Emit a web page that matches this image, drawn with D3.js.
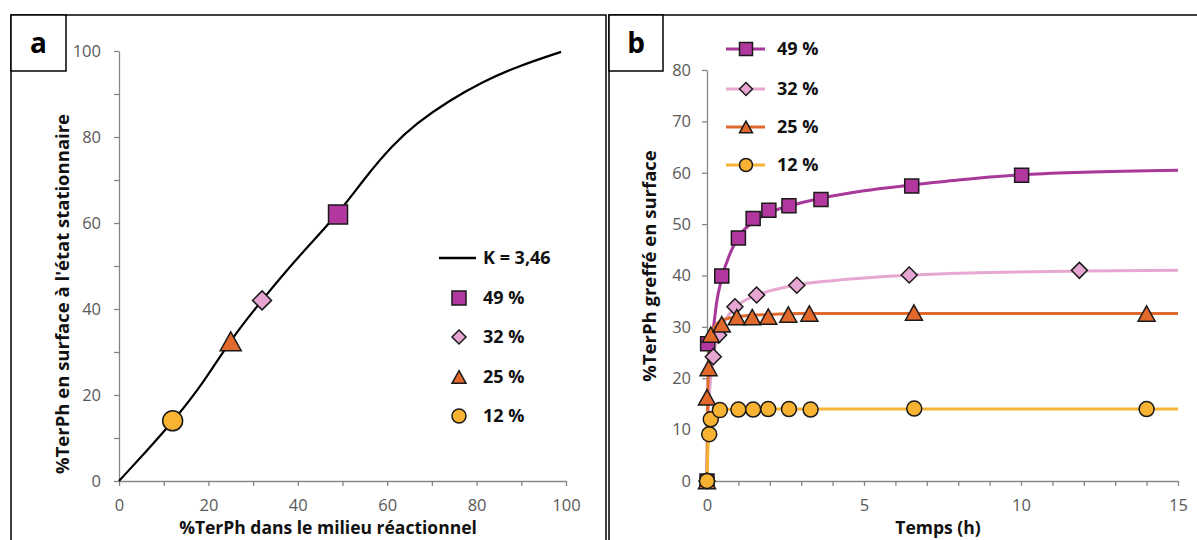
<!DOCTYPE html>
<html><head><meta charset="utf-8">
<script src="https://cdn.jsdelivr.net/npm/d3@7"></script>
<style>
html,body{margin:0;padding:0;background:#fff;}
svg{display:block;font-family:"Open Sans",sans-serif;}
</style></head><body>
<svg id="c" width="1197" height="540"></svg>
<script>
// ---------- DATA ----------
const seriesNames = ["49 %", "32 %", "25 %", "12 %"];
const shapes = ["square", "diamond", "triangle", "circle"];

// Panel a: model curve (K = 3,46)
const modelX = [0, 6, 12.3, 19, 24.6, 31.9, 40.3, 48.9, 55.2, 61.2, 66.4, 73.9, 81.3, 88.8, 98.9];
const modelY = [0, 6.8, 14.1, 23, 32.3, 42.0, 52.4, 61.9, 70.8, 78.1, 83.1, 88.5, 92.8, 96.3, 99.8];
// Panel a: steady-state points
const solutionPct = [49, 32, 25, 12];
const surfacePct = [62, 42, 32.5, 14];

// Panel b: measured points (time h, % grafted)
const t49 = [0, 0.02, 0.47, 1.0, 1.47, 1.97, 2.61, 3.63, 6.52, 10.02];
const v49 = [0, 26.7, 39.9, 47.3, 51.1, 52.7, 53.6, 54.8, 57.4, 59.5];
const t32 = [0, 0.2, 0.37, 0.89, 1.58, 2.86, 6.44, 11.86];
const v32 = [0, 24.2, 28.4, 33.9, 36.2, 38.1, 40.1, 41.0];
const t25 = [0, 0.0, 0.05, 0.12, 0.47, 0.95, 1.44, 1.95, 2.59, 3.26, 6.59, 14.0];
const v25 = [0, 16.3, 22.0, 28.5, 30.5, 31.9, 31.9, 32.0, 32.4, 32.6, 32.8, 32.6];
const t12 = [0, 0.07, 0.12, 0.41, 1.0, 1.47, 1.95, 2.61, 3.30, 6.6, 14.0];
const v12 = [0, 9.1, 12.0, 13.8, 13.9, 13.9, 14.0, 14.0, 13.9, 14.1, 14.0];

// Panel b: fitted curves
const ft49 = [0, 0.03, 0.15, 0.3, 0.47, 0.75, 1.0, 1.5, 2.0, 2.6, 3.6, 5, 6.5, 8, 10, 12, 15];
const fv49 = [0, 15, 26, 34.5, 39.5, 44.5, 47.5, 50.5, 52.3, 53.5, 55, 56.5, 57.6, 58.6, 59.6, 60.1, 60.5];
const ft32 = [0, 0.05, 0.2, 0.4, 0.6, 0.9, 1.5, 2, 3, 4, 6.5, 9, 12, 15];
const fv32 = [0, 14, 24, 29, 31.5, 33.8, 36, 37, 38.3, 39.0, 40.1, 40.6, 40.9, 41.0];
const ft25 = [0, 0.02, 0.05, 0.12, 0.3, 0.5, 1, 2, 3, 15];
const fv25 = [0, 16, 22, 28.4, 30.5, 31.3, 32, 32.4, 32.6, 32.6];
const ft12 = [0, 0.05, 0.12, 0.3, 0.5, 1, 15];
const fv12 = [0, 9, 12, 13.5, 13.9, 14, 14];

// Tick values
const aTicks = d3.range(0, 101, 10);
const bYTicks = d3.range(0, 81, 10);
const bXTicks = d3.range(0, 16, 1);

// ---------- STYLE ----------
const fills = ["#B2379E", "#E7A6D2", "#E1692C", "#F8B332"];
const strokesB = ["#A8389A", "#E6A8D1", "#E06A2E", "#F6B436"];
const axisCol = "#868686";
const tickCol = "#595959";

const svg = d3.select("#c");

function markerPath(type, s) {
  const h = s / 2;
  if (type === "square") return `M${-h},${-h}h${s}v${s}h${-s}Z`;
  if (type === "diamond") return `M0,${-h}L${h},0L0,${h}L${-h},0Z`;
  if (type === "triangle") { const th = s * 0.9; return `M0,${-th/2}L${h},${th/2}L${-h},${th/2}Z`; }
  return `M${h},0A${h},${h} 0 1,1 ${-h},0A${h},${h} 0 1,1 ${h},0Z`;
}

// Frames
svg.append("rect").attr("x", 11).attr("y", 15).attr("width", 595).attr("height", 560)
  .attr("fill", "none").attr("stroke", "#000").attr("stroke-width", 1.5);
svg.append("rect").attr("x", 609).attr("y", 15).attr("width", 620).attr("height", 560)
  .attr("fill", "none").attr("stroke", "#000").attr("stroke-width", 1.5);
svg.append("rect").attr("x", 11).attr("y", 15).attr("width", 55).attr("height", 56)
  .attr("fill", "#fff").attr("stroke", "#000").attr("stroke-width", 1.5);
svg.append("rect").attr("x", 609).attr("y", 15).attr("width", 54).attr("height", 56)
  .attr("fill", "#fff").attr("stroke", "#000").attr("stroke-width", 1.5);
svg.append("text").attr("x", 38.5).attr("y", 53).attr("text-anchor", "middle")
  .attr("font-weight", "bold").attr("font-size", 28).text("a");
svg.append("text").attr("x", 636).attr("y", 53).attr("text-anchor", "middle")
  .attr("font-weight", "bold").attr("font-size", 28).text("b");

function styleAxis(g) {
  g.select(".domain").attr("stroke", axisCol).attr("stroke-width", 1.3);
  g.selectAll(".tick line").attr("stroke", axisCol).attr("stroke-width", 1.3);
  g.selectAll(".tick text").attr("fill", tickCol).attr("font-size", 16.5)
    .attr("font-family", "'Open Sans',sans-serif");
}

// ---------- PANEL A ----------
const xa = d3.scaleLinear().domain([0, 100]).range([119, 566]);
const ya = d3.scaleLinear().domain([0, 100]).range([481, 51]);

svg.append("g").attr("transform", "translate(0,481)")
  .call(d3.axisBottom(xa).tickValues(aTicks).tickSize(5).tickSizeOuter(0).tickPadding(13)
    .tickFormat(d => d % 20 === 0 ? d : ""))
  .call(styleAxis);
svg.append("g").attr("transform", "translate(119,0)")
  .call(d3.axisLeft(ya).tickValues(aTicks).tickSize(5).tickSizeOuter(0).tickPadding(13)
    .tickFormat(d => d % 20 === 0 ? d : ""))
  .call(styleAxis);

const modelPts = modelX.map((x, i) => [x, modelY[i]]);
svg.append("path").datum(modelPts)
  .attr("d", d3.line().x(d => xa(d[0])).y(d => ya(d[1])).curve(d3.curveBasis))
  .attr("fill", "none").attr("stroke", "#000").attr("stroke-width", 2.2);

const aSizes = [19, 19, 21, 20];
solutionPct.forEach((x, i) => {
  svg.append("path").attr("d", markerPath(shapes[i], aSizes[i]))
    .attr("transform", `translate(${xa(x)},${ya(surfacePct[i])})`)
    .attr("fill", fills[i]).attr("stroke", "#1a1a1a").attr("stroke-width", 1.5);
});

// legend a
svg.append("line").attr("x1", 439).attr("x2", 476).attr("y1", 258).attr("y2", 258)
  .attr("stroke", "#000").attr("stroke-width", 2.5);
svg.append("text").attr("x", 483).attr("y", 258).attr("dy", "0.35em")
  .attr("font-weight", "bold").attr("font-size", 18).attr("fill", "#111").text("K = 3,46");
const legAY = [298, 337, 377, 416];
seriesNames.forEach((name, i) => {
  svg.append("path").attr("d", markerPath(shapes[i], 14))
    .attr("transform", `translate(459,${legAY[i]})`)
    .attr("fill", fills[i]).attr("stroke", "#1a1a1a").attr("stroke-width", 1.5);
  svg.append("text").attr("x", 483).attr("y", legAY[i]).attr("dy", "0.35em")
    .attr("font-weight", "bold").attr("font-size", 18).attr("fill", "#111").text(name);
});

// axis titles a
svg.append("text").attr("x", 328).attr("y", 534).attr("text-anchor", "middle")
  .attr("font-weight", "bold").attr("font-size", 17.5).attr("fill", "#111")
  .text("%TerPh dans le milieu réactionnel");
svg.append("text").attr("transform", "translate(69,294) rotate(-90)").attr("text-anchor", "middle")
  .attr("font-weight", "bold").attr("font-size", 18.5).attr("fill", "#111")
  .text("%TerPh en surface à l'état stationnaire");

// ---------- PANEL B ----------
const xb = d3.scaleLinear().domain([0, 15]).range([707, 1178]);
const yb = d3.scaleLinear().domain([0, 80]).range([481, 70]);

svg.append("g").attr("transform", "translate(0,481)")
  .call(d3.axisBottom(xb).tickValues(bXTicks).tickSize(5).tickSizeOuter(0).tickPadding(13)
    .tickFormat(d => d % 5 === 0 ? d : ""))
  .call(styleAxis);
svg.append("g").attr("transform", "translate(707,0)")
  .call(d3.axisLeft(yb).tickValues(bYTicks).tickSize(5).tickSizeOuter(0).tickPadding(11))
  .call(styleAxis);

const fitT = [ft49, ft32, ft25, ft12], fitV = [fv49, fv32, fv25, fv12];
const ptT = [t49, t32, t25, t12], ptV = [v49, v32, v25, v12];
const lineB = d3.line().x(d => xb(d[0])).y(d => yb(d[1])).curve(d3.curveMonotoneX);
fitT.forEach((ts, i) => {
  svg.append("path").datum(ts.map((t, j) => [t, fitV[i][j]]))
    .attr("d", lineB).attr("fill", "none").attr("stroke", strokesB[i]).attr("stroke-width", 3);
});
const bSizes = [14, 16, 17, 15];
ptT.forEach((ts, i) => {
  svg.append("g").selectAll("path").data(ts.map((t, j) => [t, ptV[i][j]])).join("path")
    .attr("d", markerPath(shapes[i], bSizes[i]))
    .attr("transform", d => `translate(${xb(d[0])},${yb(d[1])})`)
    .attr("fill", fills[i]).attr("stroke", "#1a1a1a").attr("stroke-width", 1.5);
});

// legend b
const legBY = [49, 89, 127, 165];
seriesNames.forEach((name, i) => {
  svg.append("line").attr("x1", 726).attr("x2", 765).attr("y1", legBY[i]).attr("y2", legBY[i])
    .attr("stroke", strokesB[i]).attr("stroke-width", 3);
  svg.append("path").attr("d", markerPath(shapes[i], 13))
    .attr("transform", `translate(746,${legBY[i]})`)
    .attr("fill", fills[i]).attr("stroke", "#1a1a1a").attr("stroke-width", 1.5);
  svg.append("text").attr("x", 777).attr("y", legBY[i]).attr("dy", "0.35em")
    .attr("font-weight", "bold").attr("font-size", 18).attr("fill", "#111").text(name);
});

svg.append("text").attr("x", 938).attr("y", 534).attr("text-anchor", "middle")
  .attr("font-weight", "bold").attr("font-size", 17.5).attr("fill", "#111").text("Temps (h)");
svg.append("text").attr("transform", "translate(656,266) rotate(-90)").attr("text-anchor", "middle")
  .attr("font-weight", "bold").attr("font-size", 18.5).attr("fill", "#111")
  .text("%TerPh greffé en surface");
</script>
</body></html>
